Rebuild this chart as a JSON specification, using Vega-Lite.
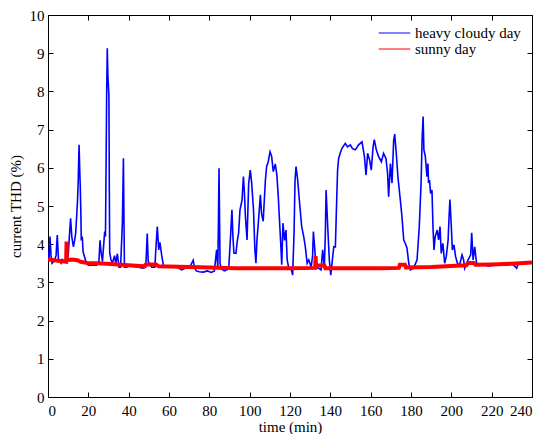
{
  "$schema": "https://vega.github.io/schema/vega-lite/v6.json",
  "width": 484,
  "height": 382,
  "autosize": {"type": "none"},
  "padding": {"left": 48, "top": 15, "right": 11, "bottom": 37},
  "background": "white",
  "config": {
    "view": {"stroke": "black", "strokeWidth": 1},
    "font": "Times New Roman, Liberation Serif, serif",
    "axis": {
      "grid": false,
      "domainColor": "black",
      "tickColor": "black",
      "labelColor": "black",
      "titleColor": "black",
      "labelFont": "Times New Roman, Liberation Serif, serif",
      "titleFont": "Times New Roman, Liberation Serif, serif",
      "labelFontSize": 15,
      "titleFontSize": 15,
      "titleFontWeight": "normal",
      "tickSize": -5,
      "labelPadding": 11
    },
    "legend": {
      "labelFont": "Times New Roman, Liberation Serif, serif",
      "labelFontSize": 15,
      "labelColor": "black"
    }
  },
  "datasets": {
    "cloudy": [
      {"t":0,"v":3.8},{"t":0.5,"v":3.6},{"t":1,"v":4.2},{"t":1.5,"v":3.7},{"t":2,"v":3.5},{"t":3,"v":3.55},{"t":4,"v":3.7},{"t":4.6,"v":4.24},{"t":5.2,"v":3.6},{"t":6.5,"v":3.5},{"t":7.1,"v":3.6},{"t":8,"v":3.55},{"t":9,"v":3.6},{"t":10,"v":3.7},{"t":10.6,"v":4.2},{"t":11.2,"v":4.68},{"t":11.8,"v":4.2},{"t":12.6,"v":3.93},{"t":13.2,"v":4.1},{"t":13.7,"v":4.28},{"t":14.2,"v":4.72},{"t":14.6,"v":5.1},{"t":15.0,"v":5.68},{"t":15.4,"v":6.6},{"t":15.7,"v":6.0},{"t":16,"v":5.5},{"t":16.3,"v":4.8},{"t":16.5,"v":4.1},{"t":17,"v":4.2},{"t":17.4,"v":3.8},{"t":18.5,"v":3.6},{"t":19,"v":3.5},{"t":20,"v":3.45},{"t":22,"v":3.45},{"t":24,"v":3.45},{"t":25.2,"v":3.5},{"t":25.8,"v":4.1},{"t":26.3,"v":3.8},{"t":27,"v":3.55},{"t":28.1,"v":4.33},{"t":28.5,"v":4.2},{"t":28.8,"v":6.1},{"t":29.1,"v":8.0},{"t":29.4,"v":9.13},{"t":29.7,"v":8.4},{"t":29.9,"v":8.2},{"t":30.2,"v":7.9},{"t":30.4,"v":5.5},{"t":30.6,"v":3.77},{"t":31.2,"v":3.6},{"t":31.9,"v":3.5},{"t":33,"v":3.7},{"t":33.6,"v":3.5},{"t":34.4,"v":3.75},{"t":35.2,"v":3.4},{"t":36,"v":3.4},{"t":36.9,"v":4.59},{"t":37.4,"v":6.25},{"t":37.7,"v":4.5},{"t":37.9,"v":3.4},{"t":39,"v":3.4},{"t":41,"v":3.45},{"t":43,"v":3.42},{"t":45,"v":3.4},{"t":47,"v":3.37},{"t":48.5,"v":3.4},{"t":49.2,"v":4.28},{"t":49.7,"v":3.55},{"t":51.4,"v":3.4},{"t":53,"v":3.4},{"t":53.5,"v":3.9},{"t":54.2,"v":4.46},{"t":54.9,"v":3.85},{"t":55.5,"v":4.05},{"t":56.4,"v":3.7},{"t":57.2,"v":3.45},{"t":59,"v":3.4},{"t":61,"v":3.4},{"t":63,"v":3.42},{"t":64.5,"v":3.38},{"t":66.3,"v":3.33},{"t":68,"v":3.37},{"t":70,"v":3.37},{"t":72,"v":3.58},{"t":72.6,"v":3.4},{"t":73.5,"v":3.3},{"t":75,"v":3.28},{"t":77,"v":3.27},{"t":79,"v":3.3},{"t":81,"v":3.26},{"t":82.5,"v":3.3},{"t":83.6,"v":3.85},{"t":84.2,"v":3.4},{"t":84.5,"v":4.5},{"t":84.8,"v":5.99},{"t":85.1,"v":4.5},{"t":85.3,"v":3.5},{"t":86,"v":3.35},{"t":87.5,"v":3.3},{"t":89.6,"v":3.35},{"t":90.6,"v":4.28},{"t":91.2,"v":4.9},{"t":91.7,"v":4.2},{"t":92.2,"v":3.77},{"t":93.2,"v":3.76},{"t":93.9,"v":4.1},{"t":94.5,"v":4.28},{"t":95.2,"v":4.9},{"t":96.2,"v":5.15},{"t":96.9,"v":5.77},{"t":97.4,"v":5.34},{"t":97.9,"v":4.72},{"t":98.7,"v":4.11},{"t":99.5,"v":5.59},{"t":100.3,"v":5.94},{"t":101,"v":5.6},{"t":101.9,"v":4.9},{"t":102.6,"v":3.85},{"t":103.1,"v":3.5},{"t":103.6,"v":4.1},{"t":104.4,"v":4.63},{"t":105.3,"v":5.29},{"t":105.9,"v":4.8},{"t":106.7,"v":4.6},{"t":107.8,"v":5.68},{"t":108.4,"v":6.03},{"t":109.2,"v":6.16},{"t":110.1,"v":6.42},{"t":110.9,"v":6.3},{"t":111.7,"v":5.9},{"t":112.7,"v":6.1},{"t":113.5,"v":5.8},{"t":114.2,"v":5.24},{"t":114.7,"v":4.72},{"t":115.4,"v":4.02},{"t":115.9,"v":3.46},{"t":116.5,"v":4.55},{"t":117.3,"v":4.1},{"t":118,"v":4.37},{"t":118.6,"v":3.59},{"t":119.3,"v":3.4},{"t":120.5,"v":3.37},{"t":121.3,"v":3.19},{"t":122,"v":4.28},{"t":122.5,"v":5.68},{"t":123,"v":6.03},{"t":123.8,"v":5.68},{"t":124.6,"v":5.17},{"t":125.8,"v":4.46},{"t":126.8,"v":4.2},{"t":127.6,"v":3.93},{"t":128.5,"v":3.5},{"t":129.3,"v":3.59},{"t":130.5,"v":3.4},{"t":131.2,"v":3.7},{"t":131.6,"v":4.33},{"t":132.2,"v":3.93},{"t":132.9,"v":3.4},{"t":134.2,"v":3.37},{"t":135.4,"v":3.33},{"t":136.2,"v":3.85},{"t":137,"v":3.4},{"t":137.5,"v":4.2},{"t":137.9,"v":5.42},{"t":138.7,"v":4.46},{"t":139.5,"v":3.59},{"t":140.2,"v":3.19},{"t":141.2,"v":3.68},{"t":141.7,"v":3.93},{"t":142.5,"v":3.93},{"t":143.2,"v":5.24},{"t":143.6,"v":5.94},{"t":144.1,"v":6.24},{"t":145,"v":6.4},{"t":145.8,"v":6.51},{"t":147.4,"v":6.64},{"t":148.5,"v":6.55},{"t":149.9,"v":6.6},{"t":151,"v":6.5},{"t":152.4,"v":6.47},{"t":154,"v":6.6},{"t":155.7,"v":6.68},{"t":156.9,"v":6.3},{"t":157.7,"v":5.81},{"t":158.5,"v":6.38},{"t":159.5,"v":6.2},{"t":160.3,"v":5.94},{"t":161.2,"v":6.55},{"t":161.8,"v":6.74},{"t":162.8,"v":6.47},{"t":163.9,"v":6.3},{"t":165.3,"v":6.16},{"t":166.4,"v":6.38},{"t":167.6,"v":6.24},{"t":168.4,"v":5.85},{"t":168.9,"v":5.24},{"t":169.8,"v":6.11},{"t":170.6,"v":5.6},{"t":171.4,"v":6.72},{"t":171.9,"v":6.88},{"t":172.7,"v":6.38},{"t":173.5,"v":5.77},{"t":174.7,"v":5.16},{"t":175.5,"v":4.73},{"t":176.4,"v":4.11},{"t":177.2,"v":4.02},{"t":178,"v":3.9},{"t":178.9,"v":3.5},{"t":179.7,"v":3.33},{"t":181.3,"v":3.37},{"t":183,"v":3.59},{"t":184.1,"v":4.46},{"t":185,"v":5.6},{"t":185.5,"v":6.73},{"t":186,"v":7.34},{"t":186.4,"v":6.47},{"t":187.1,"v":6.3},{"t":187.9,"v":5.77},{"t":188.4,"v":6.11},{"t":188.7,"v":5.6},{"t":189.2,"v":5.68},{"t":189.7,"v":5.33},{"t":190.4,"v":5.42},{"t":190.9,"v":4.46},{"t":191.4,"v":3.85},{"t":192,"v":4.2},{"t":193,"v":4.37},{"t":193.7,"v":4.11},{"t":194.4,"v":4.46},{"t":195,"v":3.76},{"t":195.8,"v":4.02},{"t":196.7,"v":3.5},{"t":197.5,"v":3.68},{"t":198.4,"v":4.11},{"t":198.8,"v":4.63},{"t":199.3,"v":5.17},{"t":200,"v":4.46},{"t":200.5,"v":3.85},{"t":201.3,"v":3.98},{"t":202.1,"v":3.68},{"t":203,"v":3.5},{"t":204.1,"v":3.46},{"t":205.3,"v":3.72},{"t":206.1,"v":3.59},{"t":206.6,"v":3.37},{"t":208.3,"v":3.59},{"t":209.6,"v":3.72},{"t":210.1,"v":4.3},{"t":210.8,"v":3.59},{"t":211.6,"v":3.93},{"t":212.5,"v":3.5},{"t":214.2,"v":3.46},{"t":216.6,"v":3.46},{"t":218,"v":3.43},{"t":219.9,"v":3.44},{"t":222,"v":3.46},{"t":224.9,"v":3.46},{"t":227,"v":3.45},{"t":229.9,"v":3.48},{"t":231,"v":3.45},{"t":232.4,"v":3.37},{"t":233.3,"v":3.5},{"t":235,"v":3.5},{"t":236.6,"v":3.52}
    ],
    "sunny": [
      {"t":0,"v":3.6},{"t":3,"v":3.58},{"t":6,"v":3.56},{"t":9,"v":3.54},{"t":9.2,"v":4.07},{"t":9.4,"v":3.58},{"t":12,"v":3.6},{"t":14.6,"v":3.58},{"t":16.2,"v":3.54},{"t":19.5,"v":3.51},{"t":25,"v":3.5},{"t":31,"v":3.48},{"t":40,"v":3.45},{"t":47.5,"v":3.42},{"t":48.5,"v":3.47},{"t":53.5,"v":3.47},{"t":55,"v":3.42},{"t":65,"v":3.41},{"t":80,"v":3.39},{"t":93,"v":3.37},{"t":110,"v":3.37},{"t":120,"v":3.37},{"t":132.5,"v":3.38},{"t":132.7,"v":3.69},{"t":132.9,"v":3.44},{"t":137,"v":3.44},{"t":137.5,"v":3.37},{"t":150,"v":3.37},{"t":165,"v":3.37},{"t":174,"v":3.38},{"t":174.5,"v":3.46},{"t":177,"v":3.46},{"t":177.5,"v":3.39},{"t":190,"v":3.4},{"t":200,"v":3.43},{"t":207.5,"v":3.45},{"t":208.3,"v":3.51},{"t":211,"v":3.51},{"t":212,"v":3.46},{"t":220,"v":3.47},{"t":230,"v":3.49},{"t":240,"v":3.52}
    ]
  },
  "layer": [
    {
      "data": {"name": "cloudy"},
      "mark": {"type": "line", "strokeWidth": 1.6, "clip": true},
      "encoding": {
        "x": {"field": "t", "type": "quantitative", "scale": {"domain": [0, 240], "nice": false},
              "axis": {"orient": "bottom", "values": [0,20,40,60,80,100,120,140,160,180,200,220,240], "title": "time (min)", "titlePadding": 1, "labelPadding": 11}},
        "y": {"field": "v", "type": "quantitative", "scale": {"domain": [0, 10], "nice": false},
              "axis": {"orient": "left", "values": [0,1,2,3,4,5,6,7,8,9,10], "title": "current THD (%)", "titlePadding": 6, "labelPadding": 9}},
        "color": {"datum": "heavy cloudy day", "type": "nominal",
                  "scale": {"domain": ["heavy cloudy day", "sunny day"], "range": ["#0000ff", "#ff0000"]},
                  "legend": {"title": null, "orient": "none", "legendX": 330, "legendY": 10, "symbolType": "stroke", "symbolSize": 1000, "symbolStrokeWidth": 1, "clipHeight": 16, "rowPadding": 0, "labelOffset": 4}}
      }
    },
    {
      "data": {"name": "sunny"},
      "mark": {"type": "line", "strokeWidth": 4, "clip": true},
      "encoding": {
        "x": {"field": "t", "type": "quantitative",
              "axis": {"orient": "top", "values": [0,20,40,60,80,100,120,140,160,180,200,220,240], "labels": false, "title": null, "domain": false}},
        "y": {"field": "v", "type": "quantitative",
              "axis": {"orient": "right", "values": [0,1,2,3,4,5,6,7,8,9,10], "labels": false, "title": null, "domain": false}},
        "color": {"datum": "sunny day", "type": "nominal"}
      }
    }
  ],
  "resolve": {"axis": {"x": "independent", "y": "independent"}}
}
